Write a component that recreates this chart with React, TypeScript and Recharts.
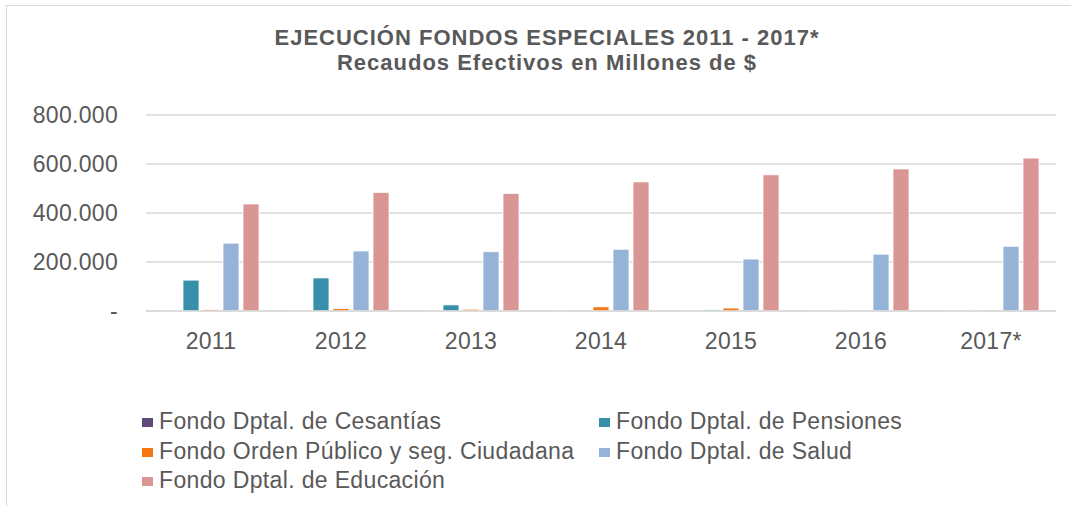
import { Bar, BarChart, CartesianGrid, XAxis, YAxis } from "recharts";

const years = ["2011", "2012", "2013", "2014", "2015", "2016", "2017*"];
const cesantias = [1500, 1000, 1000, 1000, 1000, 1000, 1000];
const pensiones = [126000, 135000, 25000, 4000, 5000, 2000, 2000];
const ordenPublico = [6000, 10000, 7000, 17000, 12000, 2500, 4000];
const salud = [277000, 245000, 242000, 252000, 212000, 232000, 264000];
const educacion = [437000, 484000, 480000, 527000, 556000, 580000, 624000];
const yTicks = [0, 200000, 400000, 600000, 800000];

const series = [
  { key: "cesantias", name: "Fondo Dptal. de Cesantías", color: "#604A7B" },
  { key: "pensiones", name: "Fondo Dptal. de Pensiones", color: "#378FA9" },
  { key: "orden", name: "Fondo Orden Público y seg. Ciudadana", color: "#F57712" },
  { key: "salud", name: "Fondo Dptal. de Salud", color: "#95B3D7" },
  { key: "educacion", name: "Fondo Dptal. de Educación", color: "#D99694" },
];

const data = years.map((year, i) => ({
  year,
  cesantias: cesantias[i],
  pensiones: pensiones[i],
  orden: ordenPublico[i],
  salud: salud[i],
  educacion: educacion[i],
}));

const font = "'Liberation Sans', Arial, sans-serif";
const textColor = "#595959";

const fmtTick = (v: number) =>
  v === 0 ? "-" : String(v).replace(/\B(?=(\d{3})+(?!\d))/g, ".");

export default function App() {
  const tickStyle = { fontSize: 23, fill: textColor, fontFamily: font, letterSpacing: 0.3 };
  return (
    <div
      style={{
        position: "fixed",
        left: 0,
        top: 0,
        width: 1071,
        height: 506,
        background: "#fff",
        overflow: "hidden",
        fontFamily: font,
      }}
    >
      <div
        style={{
          position: "absolute",
          left: 6,
          top: 5,
          width: 1100,
          height: 600,
          border: "1.5px solid #d9d9d9",
        }}
      />
      <div
        style={{
          position: "absolute",
          left: 0,
          top: 25,
          width: 1094,
          textAlign: "center",
          fontWeight: "bold",
          fontSize: 22,
          letterSpacing: 1,
          lineHeight: "25px",
          color: textColor,
        }}
      >
        <div>EJECUCIÓN FONDOS ESPECIALES 2011 - 2017*</div>
        <div>Recaudos Efectivos en Millones de $</div>
      </div>

      <div style={{ position: "absolute", left: 0, top: 0 }}>
        <BarChart
          width={1071}
          height={506}
          data={data}
          margin={{ top: 115, right: 15, left: 0, bottom: 155 }}
          barSize={16}
          barGap={4}
        >
          <CartesianGrid vertical={false} stroke="#d9d9d9" strokeWidth={1.3} />
          <XAxis
            dataKey="year"
            height={40}
            tickSize={0}
            tickMargin={22}
            axisLine={{ stroke: "#d9d9d9", strokeWidth: 1.3 }}
            tick={tickStyle}
          />
          <YAxis
            width={146}
            domain={[0, 800000]}
            ticks={yTicks}
            tickFormatter={fmtTick}
            tickSize={0}
            tickMargin={28}
            axisLine={false}
            tick={tickStyle}
          />
          {series.map((s) => (
            <Bar
              key={s.key}
              dataKey={s.key}
              name={s.name}
              fill={s.color}
              stroke="#fff"
              strokeWidth={0.8}
              isAnimationActive={false}
            />
          ))}
        </BarChart>
      </div>

      <div
        style={{
          position: "absolute",
          left: 142,
          top: 407,
          display: "grid",
          gridTemplateColumns: "457px auto",
          fontSize: 23,
          letterSpacing: 0.35,
          lineHeight: "29.5px",
          color: textColor,
        }}
      >
        {series.map((s) => (
          <div key={s.key} style={{ display: "flex", alignItems: "center", whiteSpace: "nowrap" }}>
            <span
              style={{
                display: "inline-block",
                width: 11,
                height: 9,
                background: s.color,
                marginRight: 6,
                marginTop: 2,
              }}
            />
            <span>{s.name}</span>
          </div>
        ))}
      </div>
    </div>
  );
}
